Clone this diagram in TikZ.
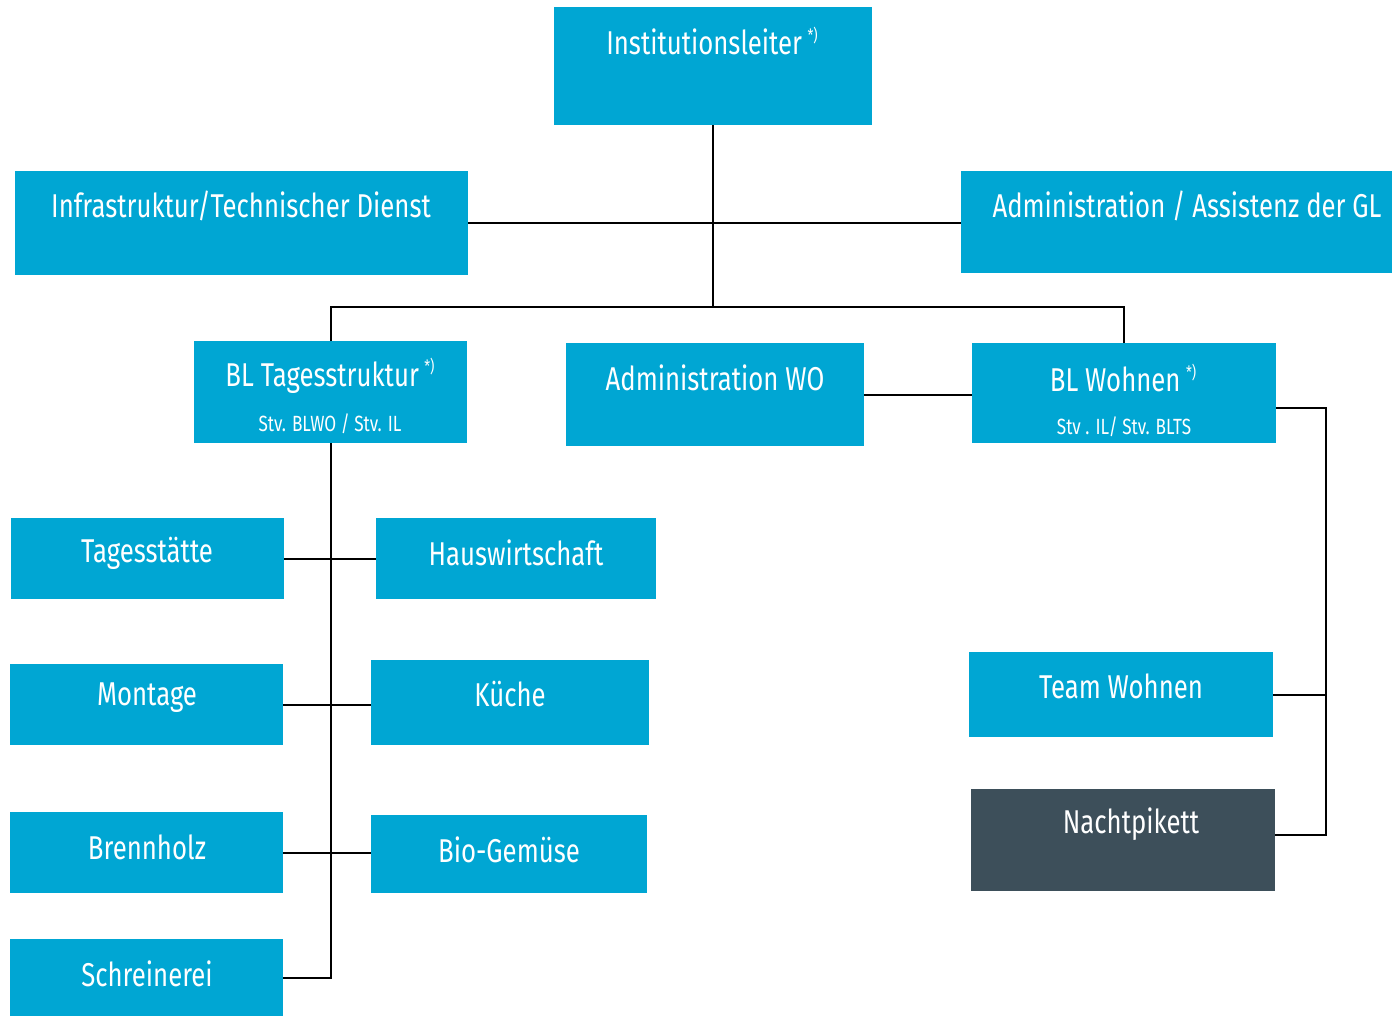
\documentclass[tikz,border=0pt]{standalone}
\usepackage{fontspec}
\setmainfont{Fira Sans}[FakeStretch=0.78]
\definecolor{boxblue}{HTML}{00A6D3}
\definecolor{boxdark}{HTML}{3D4F5A}
\newcommand{\starnote}{\,\raisebox{0.42em}{\fontsize{17}{17}\selectfont *)}}
\begin{document}
\begin{tikzpicture}[x=1pt,y=-1pt,
  box/.style={fill=boxblue,draw=none,inner sep=0pt,anchor=north west},
  darkbox/.style={box,fill=boxdark},
  lbl/.style={text=white,inner sep=0pt,font=\fontsize{33}{38}\selectfont},
  sub/.style={text=white,inner sep=0pt,font=\fontsize{22}{26}\selectfont},
  conn/.style={draw=black,line width=1.6pt}]
\useasboundingbox (0,0) rectangle (1392,1016);
% boxes
\node[box,minimum width=318,minimum height=118] (il) at (554,7) {};
\node[box,minimum width=453,minimum height=104] (infra) at (15,171) {};
\node[box,minimum width=431,minimum height=102] (admgl) at (961,171) {};
\node[box,minimum width=273,minimum height=102] (blts) at (194,341) {};
\node[box,minimum width=298,minimum height=103] (admwo) at (566,343) {};
\node[box,minimum width=304,minimum height=100] (blw) at (972,343) {};
\node[box,minimum width=273,minimum height=81] (tag) at (11,518) {};
\node[box,minimum width=280,minimum height=81] (haus) at (376,518) {};
\node[box,minimum width=273,minimum height=81] (mont) at (10,664) {};
\node[box,minimum width=278,minimum height=85] (kue) at (371,660) {};
\node[box,minimum width=273,minimum height=81] (brenn) at (10,812) {};
\node[box,minimum width=276,minimum height=78] (bio) at (371,815) {};
\node[box,minimum width=273,minimum height=77] (schr) at (10,939) {};
\node[box,minimum width=304,minimum height=85] (team) at (969,652) {};
\node[darkbox,minimum width=304,minimum height=102] (nacht) at (971,789) {};
% labels
\node[lbl] (t-il) at (712,41) {Institutionsleiter\starnote};
\node[lbl] (t-infra) at (241,206) {Infrastruktur/Technischer Dienst};
\node[lbl] (t-admgl) at (1187,206) {Administration / Assistenz der GL};
\node[lbl] (t-blts) at (330,376) {BL Tagesstruktur\starnote};
\node[sub] (s-blts) at (330,424) {Stv. BLWO / Stv. IL};
\node[lbl] (t-admwo) at (715,378) {Administration WO};
\node[lbl] (t-blw) at (1123,378) {BL Wohnen\starnote};
\node[sub] (s-blw) at (1124,427) {Stv . IL/ Stv. BLTS};
\node[lbl] (t-tag) at (147,553) {Tagesstätte};
\node[lbl] (t-haus) at (516,553) {Hauswirtschaft};
\node[lbl] (t-mont) at (147,698) {Montage};
\node[lbl] (t-kue) at (510,694) {Küche};
\node[lbl] (t-brenn) at (147,847) {Brennholz};
\node[lbl] (t-bio) at (509,850) {Bio-Gemüse};
\node[lbl] (t-schr) at (147,974) {Schreinerei};
\node[lbl] (t-team) at (1121,686) {Team Wohnen};
\node[lbl] (t-nacht) at (1131,824) {Nachtpikett};
% connectors
\coordinate (bus) at (712,307);
\coordinate (rw) at (1326,408);
\coordinate (nl) at (1326,835);
\draw[conn] (il.south) -- (il.south |- bus);
\draw[conn] (infra.east) -- (infra.east -| admgl.west);
\draw[conn] (blts.north) -- (blts.north |- bus) -- (blw.north |- bus) -- (blw.north);
\draw[conn] (admwo.east) -- (admwo.east -| blw.west);
\draw[conn] (blts.south) -- (blts.south |- schr.east) -- (schr.east);
\draw[conn] (tag.east) -- (tag.east -| haus.west);
\draw[conn] (mont.east) -- (mont.east -| kue.west);
\draw[conn] (brenn.east) -- (brenn.east -| bio.west);
\draw[conn] (blw.east |- rw) -- (rw) -- (nl) -- (nl -| nacht.east);
\draw[conn] (team.east) -- (team.east -| rw);
\end{tikzpicture}
\end{document}
